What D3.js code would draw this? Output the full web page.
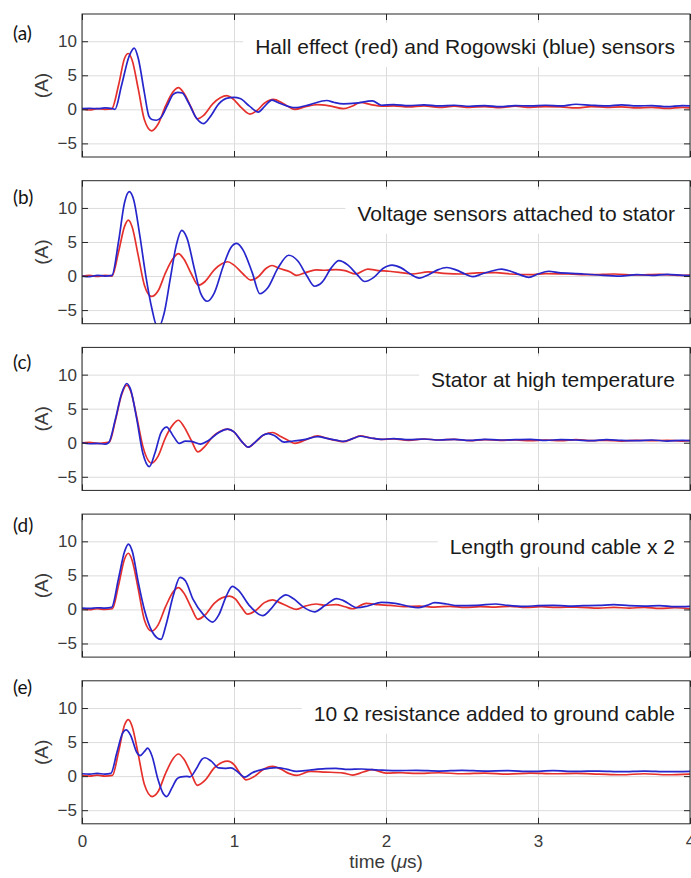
<!DOCTYPE html>
<html>
<head>
<meta charset="utf-8">
<script src="https://cdn.jsdelivr.net/npm/d3@7"></script>
<style>
  body { margin: 0; background: #fff; }
  svg { display: block; }
</style>
</head>
<body>
<div id="chart"></div>
<script>
// panel text
const panelLabels = ["(a)", "(b)", "(c)", "(d)", "(e)"];
const panelTitles = [
    "Hall effect (red) and Rogowski (blue) sensors",
    "Voltage sensors attached to stator",
    "Stator at high temperature",
    "Length ground cable x 2",
    "10 \u03A9 resistance added to ground cable"
];
const yTicks = [-5, 0, 5, 10];
const xTicks = [0, 1, 2, 3, 4];

// [time (us), current (A)]
const redA = [[0,0.1],[0.05,-0.1],[0.1,0.1],[0.15,0],[0.195,0.05],[0.24,3.5],[0.28,7.5],[0.305,8.2],[0.33,7.2],[0.37,3],[0.41,-1.5],[0.458,-3.15],[0.5,-2.2],[0.55,0.5],[0.6,2.6],[0.634,3.2],[0.67,2.4],[0.72,0.2],[0.759,-1.4],[0.8,-0.9],[0.86,0.8],[0.91,1.7],[0.952,2.0],[0.99,1.6],[1.05,0.2],[1.105,-0.7],[1.15,-0.2],[1.2,0.9],[1.26,1.45],[1.32,0.9],[1.4,0.0],[1.47,0.4],[1.55,0.7],[1.63,0.5],[1.72,0.1],[1.78,0.5],[1.83,1.0],[1.9,0.7],[1.97,0.45],[2.05,0.5],[2.15,0.35],[2.25,0.5],[2.35,0.3],[2.45,0.45],[2.55,0.3],[2.65,0.4],[2.75,0.25],[2.85,0.45],[2.95,0.3],[3.05,0.4],[3.15,0.35],[3.25,0.2],[3.35,0.4],[3.45,0.3],[3.55,0.35],[3.65,0.2],[3.75,0.3],[3.85,0.15],[3.95,0.3],[4.0,0.2]];
const blueA = [[0,0.1],[0.05,0.15],[0.1,0.1],[0.15,0.2],[0.2,0.1],[0.217,0],[0.26,3.5],[0.31,7.8],[0.344,9.0],[0.37,7.5],[0.41,2.5],[0.44,-1.0],[0.46,-1.5],[0.49,-1.6],[0.52,-1.2],[0.56,0.5],[0.6,2.2],[0.63,2.5],[0.66,2.4],[0.7,1.0],[0.75,-1.2],[0.8,-2.1],[0.84,-1.2],[0.9,0.8],[0.95,1.6],[1.0,1.75],[1.04,1.6],[1.1,0.5],[1.16,-0.4],[1.2,0.4],[1.25,1.35],[1.3,0.9],[1.4,0.25],[1.5,0.7],[1.61,1.3],[1.66,1.0],[1.72,0.8],[1.8,0.9],[1.91,1.25],[1.97,0.6],[2.05,0.7],[2.15,0.55],[2.25,0.65],[2.35,0.5],[2.45,0.6],[2.55,0.45],[2.65,0.55],[2.75,0.4],[2.85,0.55],[2.95,0.5],[3.05,0.6],[3.15,0.5],[3.25,0.75],[3.35,0.6],[3.45,0.5],[3.55,0.65],[3.65,0.5],[3.75,0.55],[3.85,0.4],[3.95,0.55],[4.0,0.5]];

const redB = [[0,0],[0.05,0.1],[0.1,-0.05],[0.15,0.1],[0.197,0],[0.24,3.5],[0.28,7.3],[0.305,8.2],[0.33,7.2],[0.37,3],[0.41,-1.3],[0.458,-3.0],[0.5,-2.2],[0.55,0.5],[0.6,2.6],[0.634,3.3],[0.67,2.5],[0.72,0.3],[0.765,-1.35],[0.81,-0.8],[0.87,0.9],[0.92,1.8],[0.958,2.1],[1.0,1.6],[1.06,0.3],[1.11,-0.6],[1.16,-0.1],[1.21,1.1],[1.25,1.55],[1.3,1.1],[1.37,0.6],[1.41,0.1],[1.47,0.5],[1.54,0.9],[1.6,0.85],[1.67,0.95],[1.73,0.8],[1.8,0.3],[1.88,1.0],[1.95,0.8],[2.02,0.7],[2.1,0.5],[2.17,0.3],[2.28,0.6],[2.38,0.4],[2.5,0.3],[2.6,0.45],[2.72,0.5],[2.82,0.3],[2.95,0.2],[3.05,0.35],[3.2,0.3],[3.35,0.2],[3.5,0.3],[3.65,0.15],[3.8,0.25],[3.95,0.1],[4.0,0.15]];
const blueB = [[0,0],[0.05,-0.1],[0.1,0.1],[0.15,0],[0.197,0.1],[0.24,5],[0.28,10.8],[0.311,12.4],[0.34,11.2],[0.38,6],[0.42,0],[0.46,-4.8],[0.49,-7.2],[0.51,-7.3],[0.54,-5.5],[0.58,-0.5],[0.62,4.5],[0.656,6.7],[0.69,5.6],[0.74,1.0],[0.78,-2.5],[0.825,-3.7],[0.87,-2.5],[0.93,1.5],[0.98,4.2],[1.018,4.8],[1.06,3.8],[1.12,0.5],[1.17,-2.6],[1.22,-1.8],[1.29,1.2],[1.36,3.05],[1.42,2.2],[1.48,0],[1.53,-1.5],[1.58,-0.9],[1.64,1.2],[1.69,2.25],[1.75,1.6],[1.81,0.2],[1.86,-0.8],[1.92,-0.2],[1.98,1.1],[2.04,1.6],[2.1,1.2],[2.16,0.3],[2.22,-0.3],[2.28,0.2],[2.34,0.9],[2.40,1.25],[2.46,0.9],[2.52,0.3],[2.57,-0.1],[2.63,0.3],[2.69,0.7],[2.76,1.0],[2.82,0.7],[2.88,0.2],[2.94,-0.2],[3.0,0.3],[3.07,0.7],[3.15,0.45],[3.22,0.4],[3.3,0.3],[3.4,0.15],[3.54,0],[3.65,0.2],[3.75,0.1],[3.85,0.25],[3.95,0.1],[4.0,0.05]];

const redC = [[0,0],[0.05,0.05],[0.1,-0.1],[0.15,0],[0.18,0.1],[0.22,3.3],[0.26,7.0],[0.294,8.45],[0.32,7.6],[0.36,3.8],[0.40,-0.5],[0.458,-3.0],[0.5,-2.0],[0.55,0.8],[0.6,2.7],[0.634,3.3],[0.67,2.4],[0.72,0.3],[0.762,-1.35],[0.81,-0.5],[0.86,0.9],[0.91,1.7],[0.958,2.0],[1.0,1.6],[1.05,0.2],[1.094,-0.65],[1.14,0.1],[1.2,1.2],[1.254,1.5],[1.3,1.0],[1.36,0.3],[1.40,-0.1],[1.47,0.4],[1.55,1.0],[1.62,0.6],[1.68,0.3],[1.72,0.15],[1.78,0.6],[1.83,1.0],[1.9,0.7],[1.97,0.5],[2.05,0.55],[2.15,0.35],[2.25,0.55],[2.35,0.4],[2.45,0.5],[2.55,0.3],[2.65,0.45],[2.75,0.35],[2.85,0.4],[2.95,0.3],[3.05,0.4],[3.15,0.3],[3.25,0.45],[3.35,0.3],[3.45,0.35],[3.55,0.25],[3.65,0.35],[3.75,0.3],[3.85,0.35],[3.95,0.25],[4.0,0.3]];
const blueC = [[0,0],[0.05,-0.15],[0.1,-0.1],[0.15,-0.2],[0.175,0],[0.22,3.5],[0.26,7.2],[0.294,8.7],[0.32,7.8],[0.36,3.5],[0.40,-1.5],[0.443,-3.5],[0.48,-1.5],[0.52,1.5],[0.557,2.3],[0.6,1.0],[0.64,-0.1],[0.68,0.25],[0.72,0.2],[0.78,-0.2],[0.83,0.3],[0.9,1.5],[0.958,2.0],[1.0,1.6],[1.05,0.2],[1.094,-0.65],[1.14,0.1],[1.19,1.1],[1.225,1.35],[1.27,1.0],[1.33,0.1],[1.39,0.25],[1.47,0.5],[1.55,0.9],[1.62,0.6],[1.68,0.35],[1.72,0.2],[1.78,0.6],[1.83,0.95],[1.9,0.7],[1.97,0.5],[2.05,0.6],[2.15,0.45],[2.25,0.55],[2.35,0.4],[2.45,0.5],[2.55,0.35],[2.65,0.5],[2.75,0.4],[2.85,0.45],[2.95,0.5],[3.05,0.35],[3.15,0.45],[3.25,0.4],[3.35,0.3],[3.45,0.45],[3.55,0.35],[3.65,0.3],[3.75,0.4],[3.85,0.25],[3.95,0.35],[4.0,0.3]];

const redD = [[0,0.1],[0.05,-0.05],[0.1,0.1],[0.15,0],[0.2,0.1],[0.24,3.5],[0.28,7.4],[0.305,8.25],[0.33,7.2],[0.37,3.0],[0.41,-1.5],[0.458,-3.2],[0.5,-2.3],[0.55,0.4],[0.6,2.6],[0.634,3.2],[0.67,2.4],[0.72,0.2],[0.762,-1.45],[0.81,-0.8],[0.87,0.9],[0.92,1.7],[0.97,1.95],[1.01,1.5],[1.05,0.3],[1.09,-0.7],[1.14,-0.2],[1.2,1.0],[1.254,1.4],[1.3,1.0],[1.36,0.4],[1.41,0],[1.47,0.5],[1.54,0.8],[1.6,0.6],[1.67,0.7],[1.73,0.4],[1.78,0.1],[1.87,0.9],[1.95,0.7],[2.03,0.6],[2.12,0.4],[2.22,0.5],[2.32,0.35],[2.42,0.45],[2.52,0.3],[2.62,0.4],[2.72,0.35],[2.82,0.45],[2.92,0.3],[3.02,0.4],[3.12,0.3],[3.25,0.35],[3.4,0.2],[3.5,0.3],[3.6,0.2],[3.7,0.3],[3.8,0.15],[3.9,0.25],[4.0,0.1]];
const blueD = [[0,0.2],[0.05,0.15],[0.1,0.25],[0.15,0.2],[0.195,0.3],[0.24,4.5],[0.28,8.5],[0.305,9.6],[0.33,8.6],[0.37,4],[0.41,0],[0.46,-3.2],[0.52,-4.4],[0.55,-2.5],[0.6,2.0],[0.645,4.7],[0.68,4.2],[0.73,1.5],[0.8,-0.8],[0.86,-1.85],[0.9,-0.8],[0.95,2.0],[0.989,3.4],[1.03,2.8],[1.1,0.6],[1.189,-0.9],[1.24,0],[1.3,1.6],[1.342,2.15],[1.39,1.6],[1.46,0.3],[1.53,-0.35],[1.6,0.6],[1.675,1.6],[1.72,1.3],[1.81,0.25],[1.88,0.5],[1.97,1.05],[2.06,0.9],[2.14,0.5],[2.21,0.25],[2.27,0.6],[2.32,1.0],[2.4,0.8],[2.47,0.55],[2.6,0.6],[2.72,0.8],[2.8,0.6],[2.91,0.45],[3.0,0.55],[3.1,0.6],[3.2,0.5],[3.3,0.55],[3.4,0.6],[3.5,0.7],[3.6,0.55],[3.7,0.5],[3.8,0.55],[3.9,0.4],[4.0,0.45]];

const redE = [[0,0.1],[0.05,0],[0.1,0.15],[0.15,0],[0.2,0.1],[0.24,3.5],[0.28,7.5],[0.305,8.3],[0.33,7.3],[0.37,3.2],[0.41,-1.2],[0.462,-3.0],[0.5,-2.3],[0.55,0.4],[0.6,2.6],[0.634,3.25],[0.67,2.5],[0.72,0.3],[0.759,-1.35],[0.81,-0.6],[0.87,1.2],[0.92,2.0],[0.958,2.2],[1.0,1.7],[1.04,0.4],[1.08,-0.55],[1.13,-0.1],[1.2,1.1],[1.254,1.45],[1.31,1.0],[1.36,0.4],[1.41,0.1],[1.5,0.7],[1.6,0.6],[1.72,0.45],[1.78,0.15],[1.85,0.6],[1.91,0.95],[2.0,0.45],[2.1,0.5],[2.2,0.4],[2.35,0.5],[2.5,0.35],[2.65,0.45],[2.8,0.3],[2.95,0.45],[3.1,0.35],[3.25,0.4],[3.4,0.3],[3.55,0.2],[3.7,0.35],[3.85,0.2],[4.0,0.3]];
const blueE = [[0,0.35],[0.05,0.3],[0.1,0.4],[0.15,0.3],[0.19,0.4],[0.23,3.5],[0.265,6.2],[0.29,6.8],[0.32,6.0],[0.36,3.5],[0.382,3.0],[0.41,3.6],[0.432,4.1],[0.46,3.0],[0.5,-0.5],[0.535,-2.6],[0.557,-3.0],[0.59,-1.8],[0.625,-0.4],[0.645,-0.15],[0.69,-0.05],[0.71,-0.1],[0.75,1.0],[0.79,2.5],[0.809,2.7],[0.85,2.2],[0.9,1.2],[0.94,1.15],[0.98,1.2],[1.02,0.7],[1.07,-0.15],[1.12,0.5],[1.19,1.0],[1.28,1.25],[1.35,1.0],[1.41,0.7],[1.5,0.9],[1.6,1.1],[1.67,1.15],[1.75,1.0],[1.84,1.05],[1.95,0.9],[2.06,0.8],[2.2,0.85],[2.35,0.75],[2.5,0.85],[2.65,0.75],[2.8,0.8],[2.95,0.7],[3.1,0.8],[3.25,0.7],[3.4,0.75],[3.55,0.65],[3.7,0.75],[3.85,0.65],[4.0,0.7]];

const redSeries = [redA, redB, redC, redD, redE];
const blueSeries = [blueA, blueB, blueC, blueD, blueE];

// layout
var width = 691, height = 878;
var left = 82, right = 690;
var firstTop = 14, panelH = 143, panelStep = 166.7;
var labelBaseline = [40, 204, 368.5, 531.5, 694];
var font = "'Liberation Sans', Arial, Helvetica, sans-serif";
var ink = "#262626";

var svg = d3.select("#chart").append("svg")
    .attr("width", width)
    .attr("height", height)
    .style("font-family", font);

var x = d3.scaleLinear().domain([0, 4]).range([left, right]);
var y = d3.scaleLinear().domain([-7, 14]).range([panelH, 0]);

var line = d3.line()
    .x(d => x(d[0]))
    .y(d => y(d[1]))
    .curve(d3.curveMonotoneX);

panelLabels.forEach(function(label, i) {
    var top = firstTop + i * panelStep;
    var g = svg.append("g").attr("transform", "translate(0," + top + ")");
    var last = i === panelLabels.length - 1;

    // grid
    g.append("g")
        .attr("class", "grid")
        .attr("transform", "translate(0," + panelH + ")")
        .call(d3.axisBottom(x).tickValues(xTicks).tickSize(-panelH).tickFormat(""));
    g.append("g")
        .attr("class", "grid")
        .attr("transform", "translate(" + left + ",0)")
        .call(d3.axisLeft(y).tickValues(yTicks).tickSize(-(right - left)).tickFormat(""));
    g.selectAll(".grid .domain").remove();
    g.selectAll(".grid line").attr("stroke", "#dcdcdc").attr("stroke-width", 1);

    // traces
    g.append("clipPath").attr("id", "clip" + i)
        .append("rect")
        .attr("x", left).attr("y", 0)
        .attr("width", right - left).attr("height", panelH);

    var traces = g.append("g").attr("clip-path", "url(#clip" + i + ")");
    traces.append("path")
        .datum(redSeries[i])
        .attr("d", line)
        .attr("fill", "none")
        .attr("stroke", "#e5302c")
        .attr("stroke-width", 1.7);
    traces.append("path")
        .datum(blueSeries[i])
        .attr("d", line)
        .attr("fill", "none")
        .attr("stroke", "#2626cc")
        .attr("stroke-width", 1.7);

    // title with white background
    var titleBox = g.append("rect").attr("fill", "#fff");
    var title = g.append("text")
        .attr("x", right - 15)
        .attr("y", 40)
        .attr("text-anchor", "end")
        .style("font-size", "21px")
        .style("fill", "#1a1a1a")
        .text(panelTitles[i]);
    var bb = title.node().getBBox();
    titleBox
        .attr("x", bb.x - 12)
        .attr("y", 9)
        .attr("width", right - 3 - (bb.x - 12))
        .attr("height", 44);

    // axes with inward ticks
    var axes = g.append("g").attr("class", "axes");
    axes.append("g")
        .attr("transform", "translate(0," + panelH + ")")
        .call(d3.axisBottom(x).tickValues(xTicks).tickSizeInner(-6).tickSizeOuter(0).tickPadding(11)
            .tickFormat(last ? d3.format("d") : ""));
    axes.append("g")
        .call(d3.axisTop(x).tickValues(xTicks).tickSizeInner(-6).tickSizeOuter(0).tickFormat(""));
    axes.append("g")
        .attr("transform", "translate(" + left + ",0)")
        .call(d3.axisLeft(y).tickValues(yTicks).tickSizeInner(-6).tickSizeOuter(0).tickPadding(5));
    axes.append("g")
        .attr("transform", "translate(" + right + ",0)")
        .call(d3.axisRight(y).tickValues(yTicks).tickSizeInner(-6).tickSizeOuter(0).tickFormat(""));

    axes.selectAll(".domain").remove();
    axes.selectAll(".tick line").attr("stroke", ink);
    axes.selectAll(".tick text")
        .style("font-family", font)
        .style("font-size", "17px")
        .attr("fill", "#3a3a3a");

    // frame
    g.append("rect")
        .attr("x", left).attr("y", 0)
        .attr("width", right - left).attr("height", panelH)
        .attr("fill", "none")
        .attr("stroke", ink)
        .attr("stroke-width", 1);

    // y label
    g.append("text")
        .attr("transform", "translate(48," + (panelH / 2) + ") rotate(-90)")
        .attr("text-anchor", "middle")
        .style("font-size", "19px")
        .style("fill", "#3a3a3a")
        .text("(A)");

    svg.append("text")
        .attr("x", 13)
        .attr("y", labelBaseline[i])
        .style("font-family", "Lato, 'Open Sans', sans-serif")
        .style("font-size", "19px")
        .style("fill", "#111")
        .text(label);
});

// x axis title
var xt = svg.append("text")
    .attr("x", (left + right) / 2)
    .attr("y", 868)
    .attr("text-anchor", "middle")
    .style("font-size", "19px")
    .style("fill", "#3a3a3a");
xt.append("tspan").text("time (");
xt.append("tspan").style("font-style", "italic").text("\u03BC");
xt.append("tspan").text("s)");
</script>
</body>
</html>
